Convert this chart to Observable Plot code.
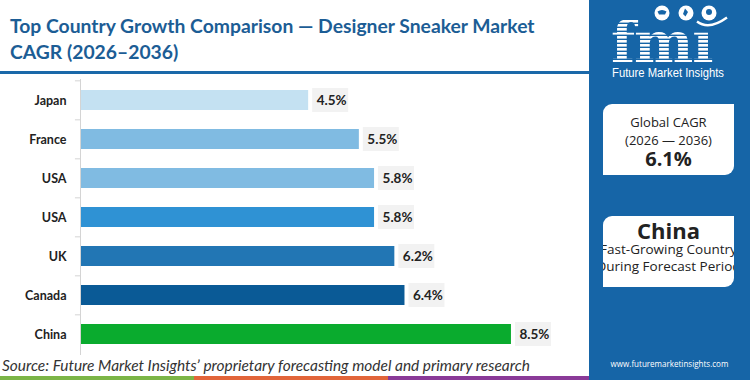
<!DOCTYPE html>
<html>
<head>
<meta charset="utf-8">
<script src="https://cdn.jsdelivr.net/npm/d3@7"></script>
<script src="https://cdn.jsdelivr.net/npm/@observablehq/plot@0.6"></script>
<style>
  html, body { margin: 0; padding: 0; background: #fff; }
  #wrap { position: relative; width: 750px; height: 380px; overflow: hidden; background: #fff; font-family: Lato, "Open Sans", sans-serif; }
  #title { position: absolute; left: 10px; top: 13px; color: #1c5d95; font-weight: 700; font-size: 18.5px; line-height: 25px; white-space: nowrap; }
  #title span { display: inline-block; }
  #underline { position: absolute; left: 0; top: 71px; width: 589px; height: 3px; background: #1a68a9; }
  #chart { position: absolute; left: 0; top: 76px; }
  #source { position: absolute; left: 2px; top: 356px; font-style: italic; font-size: 14.5px; color: #333; white-space: nowrap; font-family: Lato, sans-serif; }
  .strip { position: absolute; top: 376px; height: 4px; }
  #panel { position: absolute; left: 589px; top: 0; width: 161px; height: 380px; background: #1665a7; }
  .box { position: absolute; left: 14px; width: 131px; height: 71px; background: #fff; border-radius: 9px 0 9px 0; overflow: hidden; color: #222; font-family: "Open Sans", sans-serif; }
  .line { display: flex; justify-content: center; white-space: nowrap; width: 100%; line-height: 1; position: absolute; }
  #site { position: absolute; left: 0; width: 161px; top: 360px; display: flex; justify-content: center; color: #fff; font-size: 9.5px; line-height: 1; font-family: "Open Sans", sans-serif; }
  #site span { white-space: nowrap; }
</style>
</head>
<body>
<div id="wrap">
  <div id="title"><span id="t1"></span><br><span id="t2"></span></div>
  <div id="underline"></div>
  <div id="chart"></div>
  <div id="source"></div>
  <div class="strip" style="left:0;width:194px;background:#7cb547"></div>
  <div class="strip" style="left:194px;width:194px;background:#e2653a"></div>
  <div class="strip" style="left:388px;width:201px;background:#8a3a98"></div>
  <div id="panel">
    <svg id="logo" width="161" height="90" style="position:absolute;left:0;top:0">
      <defs>
        <pattern id="stripes" width="4" height="4" patternUnits="userSpaceOnUse">
          <rect width="4" height="2.6" fill="#fff"></rect>
        </pattern>
      </defs>
      <text x="22" y="62" font-family="DejaVu Serif" font-weight="700" font-size="56" fill="url(#stripes)" letter-spacing="-1">fm&#x131;</text>
      <circle cx="73" cy="13" r="7.5" fill="#fff"></circle>
      <path d="M68.5 11.5 q4.5 -3 9 0 l-1.5 3 h-6 z" fill="#1665a7"></path>
      <circle cx="97" cy="13" r="7.5" fill="#fff"></circle>
      <path d="M96 8.5 l3 3.5 l-2.5 4.5 l-2.5 -2.5 z" fill="#1665a7"></path>
      <circle cx="120" cy="13" r="7.5" fill="#fff"></circle>
      <circle cx="120" cy="12" r="3" fill="#1665a7"></circle>
      <path d="M108 21.5 q12 9 30 -4" stroke="#fff" stroke-width="2.4" fill="none"></path>
      <text x="23" y="77" font-family="Liberation Sans Narrow, Arial Narrow, sans-serif" font-size="13.5" fill="#fff" textLength="112" lengthAdjust="spacingAndGlyphs">Future Market Insights</text>
    </svg>
    <div class="box" style="top:104px">
      <div class="line" id="g1" style="top:12px;font-size:13px"></div>
      <div class="line" id="g2" style="top:30px;font-size:13px"></div>
      <div class="line" id="g3" style="top:45px;font-size:20px;font-weight:700"></div>
    </div>
    <div class="box" style="top:216px">
      <div class="line" id="c1" style="top:3px;font-size:22px;font-weight:700"></div>
      <div class="line" id="c2" style="top:27px;font-size:13.5px"></div>
      <div class="line" id="c3" style="top:44px;font-size:13.5px"></div>
    </div>
    <div id="site"><span id="siteText"></span></div>
  </div>
</div>
<script>
// ---- data ----
const countries = ["Japan", "France", "USA", "USA", "UK", "Canada", "China"];
const cagr = [4.5, 5.5, 5.8, 5.8, 6.2, 6.4, 8.5];
const barColors = ["#c4e1f2", "#80bbe2", "#80bbe2", "#2f92d4", "#2276b4", "#0a5a96", "#0aab2e"];
const titleLines = ["Top Country Growth Comparison \u2014 Designer Sneaker Market", "CAGR (2026\u20132036)"];
const sourceText = "Source: Future Market Insights\u2019 proprietary forecasting model and primary research";
const globalLines = ["Global CAGR", "(2026 \u2014 2036)", "6.1%"];
const leaderLines = ["China", "Fast-Growing Country", "During Forecast Period"];
const siteText = "www.futuremarketinsights.com";

// ---- text ----
document.getElementById("t1").textContent = titleLines[0];
document.getElementById("t2").textContent = titleLines[1];
document.getElementById("source").textContent = sourceText;
["g1", "g2", "g3"].forEach((id, k) => document.getElementById(id).innerHTML = "<span>" + globalLines[k] + "</span>");
["c1", "c2", "c3"].forEach((id, k) => document.getElementById(id).innerHTML = "<span>" + leaderLines[k] + "</span>");
document.getElementById("siteText").textContent = siteText;

// fit widths
function fitWidth(el, target) {
  const w = el.getBoundingClientRect().width;
  const fs = parseFloat(getComputedStyle(el).fontSize);
  el.style.fontSize = (fs * target / w) + "px";
}
fitWidth(document.getElementById("t1"), 525);
document.getElementById("t2").style.fontSize = document.getElementById("t1").style.fontSize;
fitWidth(document.getElementById("source"), 528);
fitWidth(document.getElementById("siteText"), 118);

// ---- chart ----
const data = countries.map((c, i) => ({i, c, v: cagr[i], color: barColors[i]}));
const H = 282, mT = 3, mB = 3;
const pIn = 0.5, pOut = 0.26;
const step = (H - mT - mB) / (countries.length - pIn + 2 * pOut);

const chart = Plot.plot({
  width: 590,
  height: H,
  marginTop: mT,
  marginBottom: mB,
  marginLeft: 80,
  marginRight: 3,
  style: {fontFamily: "Lato, 'Open Sans', sans-serif", background: "transparent"},
  x: {domain: [0, 10], axis: null},
  y: {domain: d3.range(countries.length), paddingInner: pIn, paddingOuter: pOut, axis: null},
  marks: [
    Plot.ruleX([0], {stroke: "#d4d4d4"}),
    Plot.ruleY(data, {y: "i", x1: () => -0.1, x2: () => 0, dy: -step / 2, stroke: "#d4d4d4"}),
    Plot.barX(data, {x: "v", y: "i", fill: "color", insetLeft: 1}),
    Plot.barX(data, {x1: "v", x2: "v", y: "i", fill: "#f2f2f2", insetLeft: 4, insetRight: -40, insetTop: -2, insetBottom: -2}),
    Plot.text(data, {x: "v", y: "i", text: d => d.v.toFixed(1) + "%", dx: 8, textAnchor: "start", fontWeight: 700, fontSize: 13.5, fill: "#222"}),
    Plot.text(data, {x: () => 0, y: "i", text: "c", dx: -14, textAnchor: "end", fontWeight: 700, fontSize: 12.5, fill: "#222"})
  ]
});
document.getElementById("chart").appendChild(chart);
</script>
</body>
</html>
